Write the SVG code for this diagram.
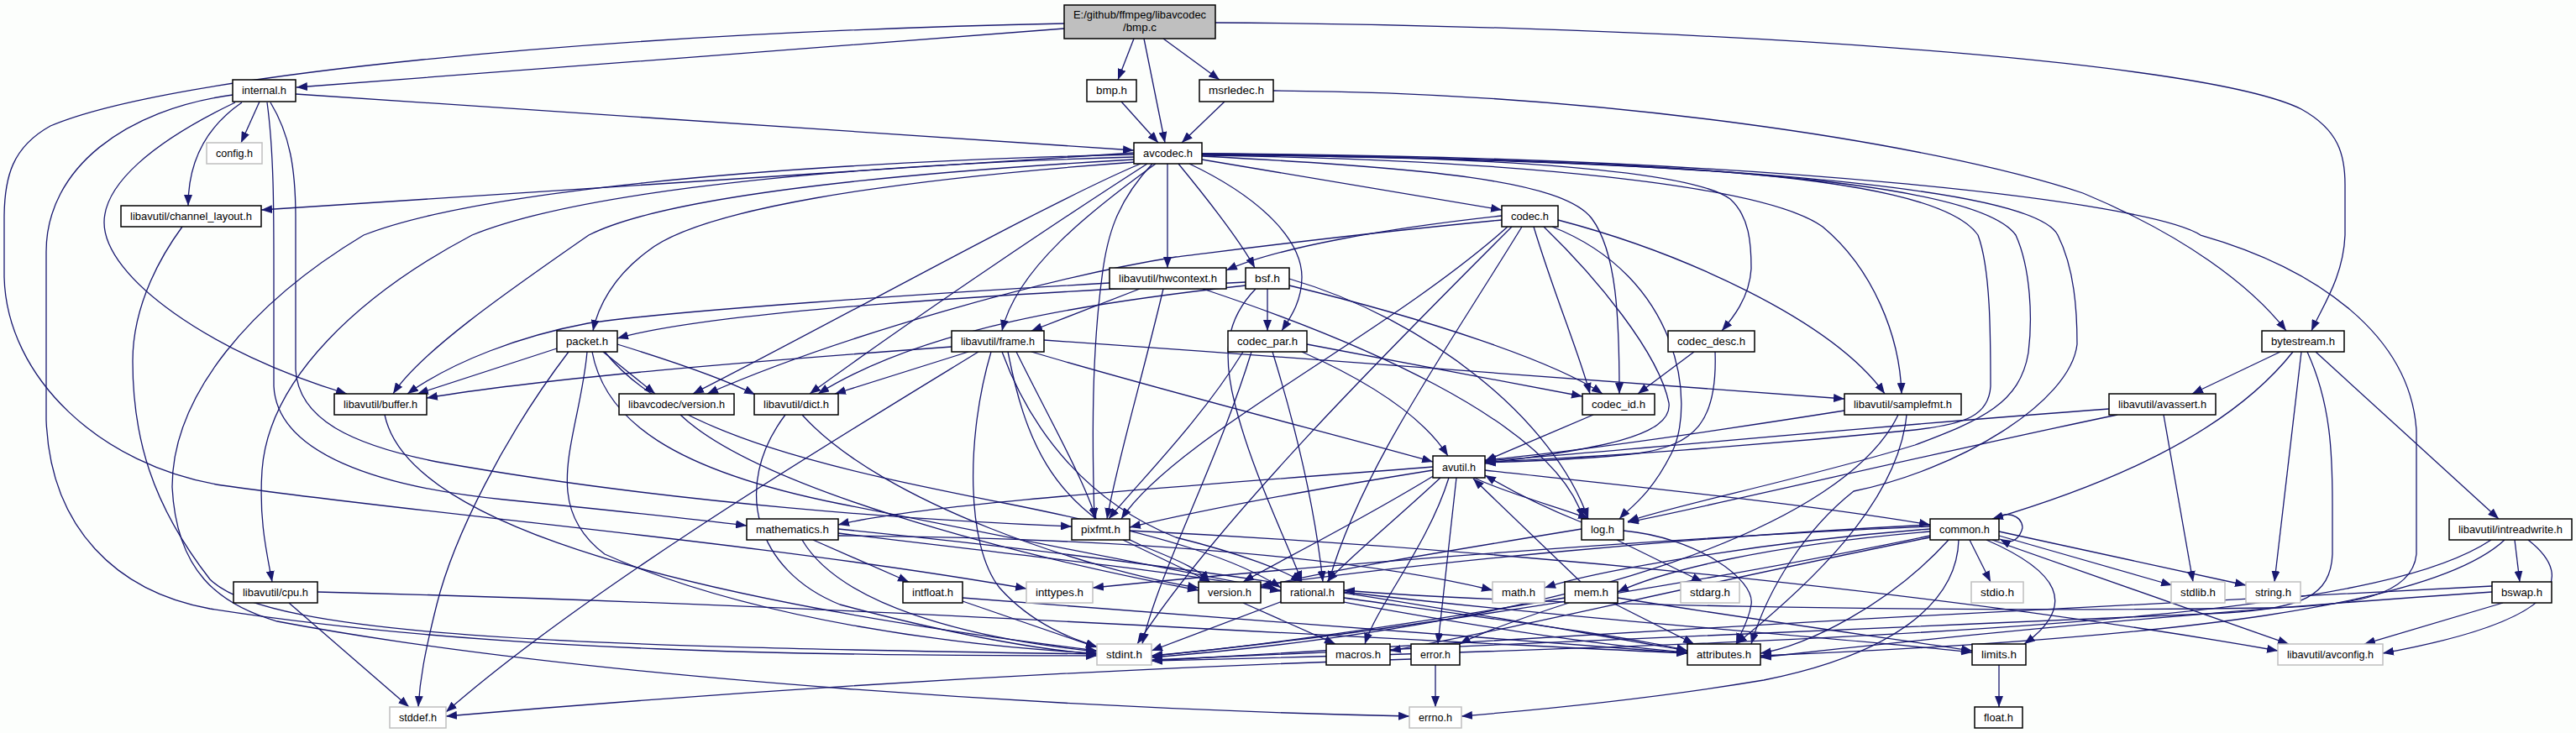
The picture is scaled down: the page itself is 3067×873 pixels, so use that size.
<svg xmlns="http://www.w3.org/2000/svg" width="3067" height="873" viewBox="0 0 3067 873">
<style>
.n rect{fill:#fff;stroke:#000;stroke-width:1.5}
.s rect{fill:#fff;stroke:#bfbfbf;stroke-width:1.5}
.r rect{fill:#bfbfbf;stroke:#000;stroke-width:1.5}
text{font-family:"Liberation Sans",Arial,sans-serif;font-size:13px;fill:#000;text-anchor:middle}
#edges path{fill:none;stroke:#191970;stroke-width:1.3;marker-end:url(#a)}
</style>
<defs>
<marker id="a" markerUnits="userSpaceOnUse" markerWidth="13" markerHeight="10" viewBox="0 0 13 10" refX="13" refY="5" orient="auto"><path d="M0,0 L13,5 L0,10 z" fill="#191970" stroke="none"/></marker>
</defs>
<rect width="3067" height="873" fill="#fcfefc"/>
<g id="edges">
<path d="M1267,34 C1000,55 600,85 353,104"/>
<path d="M1267,28 C700,40 200,90 60,150 C15,175 5,210 5,260 L5,330 C8,450 120,555 264,578 C500,612 900,645 1222,701"/>
<path d="M1350,46 L1331,95"/>
<path d="M1362,46 L1387,170"/>
<path d="M1385,46 L1452,95"/>
<path d="M1447,27 C2000,30 2620,70 2740,130 C2785,155 2792,185 2792,220 L2792,280 C2790,330 2765,365 2752,394"/>
<path d="M1335,121 L1379,170"/>
<path d="M1458,121 L1407,170"/>
<path d="M1516,108 C1900,110 2300,170 2480,230 C2600,280 2680,340 2722,394"/>
<path d="M352,112 L1350,179"/>
<path d="M309,121 L287,170"/>
<path d="M288,122 C240,155 224,200 224,245"/>
<path d="M280,122 C180,170 124,220 124,265 C124,330 250,420 413,469"/>
<path d="M277,113 C150,130 55,200 55,300 L55,500 C60,630 140,705 250,725 C600,780 1000,780 1306,781"/>
<path d="M318,122 C326,180 326,250 326,320 L326,460 C330,540 450,580 600,595 C750,610 840,620 889,626"/>
<path d="M322,122 C345,160 352,200 352,260 L352,440 C355,500 420,530 520,550 C800,600 1100,620 1276,627"/>
<path d="M1350,182 L311,250"/>
<path d="M1350,190 C1000,210 780,240 701,280 C600,350 500,420 468,469"/>
<path d="M1352,193 C1050,215 830,250 770,300 C730,330 712,365 706,394"/>
<path d="M1350,187 C900,200 660,240 562,280 C430,350 320,450 312,560 C308,620 318,660 324,693"/>
<path d="M1350,184 C900,195 560,230 433,280 C300,360 205,470 205,580 C210,680 260,720 330,740 C700,810 1300,845 1678,853"/>
<path d="M1358,195 C1250,240 1000,380 825,469"/>
<path d="M1366,195 C1280,250 1100,370 964,469"/>
<path d="M1376,195 C1300,250 1210,320 1193,394"/>
<path d="M1390,195 L1390,319"/>
<path d="M1403,195 C1440,240 1478,290 1494,319"/>
<path d="M1416,195 C1500,235 1550,285 1550,330 C1550,360 1535,380 1526,394"/>
<path d="M1431,190 L1788,250"/>
<path d="M1431,183 C1750,186 2010,200 2060,237 C2083,258 2085,290 2085,320 C2083,355 2062,380 2050,394"/>
<path d="M1431,186 C1700,200 1860,215 1895,260 C1925,300 1928,380 1928,469"/>
<path d="M1431,185 C1800,190 2100,220 2170,270 C2230,320 2262,400 2264,469"/>
<path d="M1431,184 C1900,190 2300,200 2355,280 C2370,320 2370,400 2370,460 C2368,495 2340,505 2280,512 C2100,530 1900,545 1768,550"/>
<path d="M1431,184 C1950,190 2350,210 2400,280 C2418,320 2420,380 2415,420 C2405,480 2360,500 2280,530 C2150,570 2000,600 1938,621"/>
<path d="M1431,183 C2000,190 2420,220 2450,280 C2470,320 2473,370 2473,410 C2465,480 2330,560 2207,585 C2150,630 2105,700 2085,767"/>
<path d="M1431,183 C2100,186 2560,240 2620,280 C2760,320 2870,400 2877,513 L2877,660 C2872,710 2800,722 2700,724 C2300,730 1800,720 1600,703"/>
<path d="M1372,195 C1330,240 1318,280 1312,330 C1300,420 1300,520 1303,618"/>
<path d="M1788,257 C1650,272 1520,295 1460,322"/>
<path d="M1788,262 C1600,280 1450,300 1400,306 C1250,330 1000,400 842,469"/>
<path d="M1800,270 C1650,420 1450,620 1354,767"/>
<path d="M1795,270 C1650,400 1400,520 1335,618"/>
<path d="M1812,270 C1720,420 1620,560 1582,693"/>
<path d="M1838,270 C1900,330 1975,420 1987,480 C1992,520 1900,535 1768,552"/>
<path d="M1848,270 C2000,330 2020,480 1990,540 C1965,590 1940,605 1928,618"/>
<path d="M1855,262 C2000,300 2180,380 2244,469"/>
<path d="M1826,270 C1850,350 1880,420 1893,469"/>
<path d="M1483,340 C1300,360 1100,390 974,469"/>
<path d="M1483,336 C1200,350 850,370 735,403"/>
<path d="M1509,344 L1509,394"/>
<path d="M1535,340 C1700,380 1850,430 1908,469"/>
<path d="M1535,332 C1700,380 1850,500 1891,618"/>
<path d="M1495,344 C1460,380 1455,420 1470,480 C1490,560 1530,640 1550,693"/>
<path d="M1490,419 C1450,550 1380,680 1360,767"/>
<path d="M1550,419 C1620,450 1690,490 1724,543"/>
<path d="M1515,419 C1540,500 1565,600 1575,693"/>
<path d="M1480,419 C1430,500 1360,570 1320,618"/>
<path d="M1556,410 L1884,472"/>
<path d="M2017,419 L1950,469"/>
<path d="M2042,419 C2045,500 2020,530 1950,540 C1880,548 1800,550 1768,551"/>
<path d="M1897,494 L1768,549"/>
<path d="M663,415 L497,469"/>
<path d="M718,419 L780,469"/>
<path d="M735,410 C800,430 860,450 899,470"/>
<path d="M677,419 C600,520 540,640 520,720 C505,780 500,810 498,842"/>
<path d="M699,419 C690,520 640,600 720,660 C900,740 1150,770 1306,778"/>
<path d="M705,419 C720,500 800,560 1000,600 C1500,700 1800,760 2009,777"/>
<path d="M720,419 C800,520 1000,560 1200,600 C1400,640 1480,670 1525,700"/>
<path d="M810,494 C900,580 1200,660 1427,703"/>
<path d="M1321,337 C1100,350 800,370 700,385 C620,400 540,430 485,469"/>
<path d="M1357,344 L1228,394"/>
<path d="M1385,344 C1360,450 1330,550 1318,618"/>
<path d="M1432,344 C1600,400 1850,500 1885,618"/>
<path d="M1133,413 C900,430 650,450 508,474"/>
<path d="M1153,419 L994,469"/>
<path d="M1165,419 C1000,520 700,700 531,848"/>
<path d="M1180,419 C1150,520 1150,650 1190,700 C1230,745 1280,762 1306,770"/>
<path d="M1228,419 C1400,470 1600,520 1706,550"/>
<path d="M1193,419 C1230,520 1300,600 1400,640 C1480,660 1530,680 1550,693"/>
<path d="M1243,405 C1600,430 2000,460 2196,475"/>
<path d="M1210,419 C1250,500 1290,570 1305,618"/>
<path d="M1200,419 C1220,520 1250,600 1360,650 C1410,670 1430,680 1440,693"/>
<path d="M935,494 C870,580 900,680 1000,720 C1150,760 1250,775 1306,779"/>
<path d="M955,494 C1050,600 1300,680 1427,700"/>
<path d="M458,494 C480,600 700,700 1306,775"/>
<path d="M217,270 C195,300 158,360 158,430 C158,520 180,600 250,690 C320,760 700,770 1306,779"/>
<path d="M344,718 L487,842"/>
<path d="M378,705 C1000,720 1600,760 2009,778"/>
<path d="M2196,489 C2000,520 1850,540 1768,548"/>
<path d="M2260,494 C2200,620 1900,740 1371,783"/>
<path d="M2270,494 C2260,600 2150,700 2067,767"/>
<path d="M2576,494 L2611,693"/>
<path d="M2511,487 C2200,510 1900,540 1768,549"/>
<path d="M2521,494 C2300,540 2050,600 1938,622"/>
<path d="M1768,560 C1950,580 2150,600 2298,625"/>
<path d="M1734,569 L1712,767"/>
<path d="M1715,569 C1660,620 1600,670 1580,693"/>
<path d="M1708,566 C1620,620 1520,670 1480,693"/>
<path d="M1725,569 C1700,650 1640,720 1625,767"/>
<path d="M1706,556 C1400,580 1100,600 998,625"/>
<path d="M1755,569 C1800,590 1860,605 1892,618"/>
<path d="M1706,560 C1550,585 1420,610 1345,628"/>
<path d="M1883,622 C1840,605 1800,585 1768,566"/>
<path d="M1925,643 L2027,693"/>
<path d="M1933,632 C2020,640 2090,690 2085,720 C2082,740 2072,755 2067,767"/>
<path d="M1883,630 C1700,660 1550,685 1501,700"/>
<path d="M1882,693 L1754,570"/>
<path d="M1868,718 C1800,740 1760,755 1738,767"/>
<path d="M1920,718 L2017,767"/>
<path d="M1863,712 C1700,740 1500,770 1371,781"/>
<path d="M1926,712 C2100,740 2250,760 2348,775"/>
<path d="M1337,643 L1441,693"/>
<path d="M1345,632 C1900,660 2400,720 2712,775"/>
<path d="M968,643 L1082,693"/>
<path d="M955,643 C1000,720 1150,760 1306,776"/>
<path d="M998,635 C1200,660 1400,680 1525,704"/>
<path d="M998,638 C1300,640 1600,660 1777,703"/>
<path d="M998,630 C1500,680 1800,740 2009,775"/>
<path d="M1146,716 L1306,771"/>
<path d="M1146,712 C1500,740 1800,760 2009,778"/>
<path d="M1480,718 L1590,767"/>
<path d="M1527,716 L1371,775"/>
<path d="M1600,712 C1800,740 1950,760 2009,775"/>
<path d="M1600,705 C1900,740 2200,760 2348,777"/>
<path d="M1709,792 L1709,842"/>
<path d="M1680,785 C1200,800 800,830 531,853"/>
<path d="M2375,618 C2395,605 2412,620 2407,632 C2402,645 2392,648 2381,642"/>
<path d="M2345,643 L2370,693"/>
<path d="M2380,638 L2586,697"/>
<path d="M2380,633 L2674,697"/>
<path d="M2372,643 L2725,767"/>
<path d="M2365,643 C2450,680 2475,720 2410,767"/>
<path d="M2298,633 C2100,650 1980,680 1926,705"/>
<path d="M2298,630 C2100,645 1900,680 1839,700"/>
<path d="M2332,643 C2330,720 2250,780 2100,810 C1950,835 1800,848 1740,853"/>
<path d="M2298,627 C2000,640 1600,670 1301,700"/>
<path d="M2298,638 C2000,700 1600,760 1371,781"/>
<path d="M2320,643 C2250,720 2150,770 2096,778"/>
<path d="M2298,640 C2000,700 1800,750 1655,775"/>
<path d="M2298,625 C2000,640 1700,670 1501,697"/>
<path d="M2715,419 L2610,469"/>
<path d="M2730,419 C2650,520 2500,580 2372,618"/>
<path d="M2740,419 L2708,693"/>
<path d="M2747,419 C2775,480 2777,540 2777,600 L2777,660 C2775,710 2740,725 2650,730 C2200,750 1700,770 1371,786"/>
<path d="M2757,419 L2975,618"/>
<path d="M2994,643 L3000,693"/>
<path d="M3010,643 C3070,690 3045,740 2837,778"/>
<path d="M2966,643 C2850,720 2500,760 1371,787"/>
<path d="M2982,643 C2900,720 2600,760 2096,781"/>
<path d="M2980,718 L2815,767"/>
<path d="M2967,698 C2500,720 1800,760 1371,787"/>
<path d="M2967,705 C2600,730 2300,760 2096,783"/>
<path d="M2380,792 L2380,842"/>
</g>
<g id="n_bmpc" class="r"><rect x="1267" y="6" width="180" height="40"/><text x="1357" y="21.5" textLength="158" lengthAdjust="spacingAndGlyphs">E:/github/ffmpeg/libavcodec</text><text x="1357" y="37" textLength="40" lengthAdjust="spacingAndGlyphs">/bmp.c</text></g>
<g id="n_internal" class="n"><rect x="277" y="95" width="75" height="26"/><text x="314.5" y="112" textLength="53" lengthAdjust="spacingAndGlyphs">internal.h</text></g>
<g id="n_bmph" class="n"><rect x="1294" y="95" width="59" height="26"/><text x="1323.5" y="112" textLength="37" lengthAdjust="spacingAndGlyphs">bmp.h</text></g>
<g id="n_msrledec" class="n"><rect x="1428" y="95" width="88" height="26"/><text x="1472" y="112" textLength="66" lengthAdjust="spacingAndGlyphs">msrledec.h</text></g>
<g id="n_config" class="s"><rect x="246" y="170" width="66" height="25"/><text x="279" y="187" textLength="44" lengthAdjust="spacingAndGlyphs">config.h</text></g>
<g id="n_avcodec" class="n"><rect x="1350" y="170" width="81" height="25"/><text x="1390.5" y="187" textLength="59" lengthAdjust="spacingAndGlyphs">avcodec.h</text></g>
<g id="n_chl" class="n"><rect x="144" y="245" width="167" height="25"/><text x="227.5" y="262" textLength="145" lengthAdjust="spacingAndGlyphs">libavutil/channel_layout.h</text></g>
<g id="n_codec" class="n"><rect x="1788" y="245" width="67" height="25"/><text x="1821.5" y="262" textLength="45" lengthAdjust="spacingAndGlyphs">codec.h</text></g>
<g id="n_hwc" class="n"><rect x="1321" y="319" width="139" height="25"/><text x="1390.5" y="336" textLength="117" lengthAdjust="spacingAndGlyphs">libavutil/hwcontext.h</text></g>
<g id="n_bsf" class="n"><rect x="1483" y="319" width="52" height="25"/><text x="1509" y="336" textLength="30" lengthAdjust="spacingAndGlyphs">bsf.h</text></g>
<g id="n_packet" class="n"><rect x="663" y="394" width="72" height="25"/><text x="699" y="411" textLength="50" lengthAdjust="spacingAndGlyphs">packet.h</text></g>
<g id="n_frame" class="n"><rect x="1133" y="394" width="110" height="25"/><text x="1188" y="411" textLength="88" lengthAdjust="spacingAndGlyphs">libavutil/frame.h</text></g>
<g id="n_cpar" class="n"><rect x="1462" y="394" width="94" height="25"/><text x="1509" y="411" textLength="72" lengthAdjust="spacingAndGlyphs">codec_par.h</text></g>
<g id="n_cdesc" class="n"><rect x="1986" y="394" width="103" height="25"/><text x="2037.5" y="411" textLength="81" lengthAdjust="spacingAndGlyphs">codec_desc.h</text></g>
<g id="n_bytestream" class="n"><rect x="2693" y="394" width="98" height="25"/><text x="2742" y="411" textLength="76" lengthAdjust="spacingAndGlyphs">bytestream.h</text></g>
<g id="n_buffer" class="n"><rect x="398" y="469" width="110" height="25"/><text x="453" y="486" textLength="88" lengthAdjust="spacingAndGlyphs">libavutil/buffer.h</text></g>
<g id="n_lver" class="n"><rect x="737" y="469" width="137" height="25"/><text x="805.5" y="486" textLength="115" lengthAdjust="spacingAndGlyphs">libavcodec/version.h</text></g>
<g id="n_dict" class="n"><rect x="898" y="469" width="100" height="25"/><text x="948" y="486" textLength="78" lengthAdjust="spacingAndGlyphs">libavutil/dict.h</text></g>
<g id="n_cid" class="n"><rect x="1884" y="469" width="86" height="25"/><text x="1927" y="486" textLength="64" lengthAdjust="spacingAndGlyphs">codec_id.h</text></g>
<g id="n_sfmt" class="n"><rect x="2196" y="469" width="139" height="25"/><text x="2265.5" y="486" textLength="117" lengthAdjust="spacingAndGlyphs">libavutil/samplefmt.h</text></g>
<g id="n_avassert" class="n"><rect x="2511" y="469" width="127" height="25"/><text x="2574.5" y="486" textLength="105" lengthAdjust="spacingAndGlyphs">libavutil/avassert.h</text></g>
<g id="n_avutil" class="n"><rect x="1706" y="543" width="62" height="26"/><text x="1737" y="561" textLength="40" lengthAdjust="spacingAndGlyphs">avutil.h</text></g>
<g id="n_mathematics" class="n"><rect x="889" y="618" width="109" height="25"/><text x="943.5" y="635" textLength="87" lengthAdjust="spacingAndGlyphs">mathematics.h</text></g>
<g id="n_pixfmt" class="n"><rect x="1276" y="618" width="69" height="25"/><text x="1310.5" y="635" textLength="47" lengthAdjust="spacingAndGlyphs">pixfmt.h</text></g>
<g id="n_log" class="n"><rect x="1883" y="618" width="50" height="25"/><text x="1908" y="635" textLength="28" lengthAdjust="spacingAndGlyphs">log.h</text></g>
<g id="n_common" class="n"><rect x="2298" y="618" width="82" height="25"/><text x="2339" y="635" textLength="60" lengthAdjust="spacingAndGlyphs">common.h</text></g>
<g id="n_irw" class="n"><rect x="2916" y="618" width="146" height="25"/><text x="2989" y="635" textLength="124" lengthAdjust="spacingAndGlyphs">libavutil/intreadwrite.h</text></g>
<g id="n_cpu" class="n"><rect x="278" y="693" width="100" height="25"/><text x="328" y="710" textLength="78" lengthAdjust="spacingAndGlyphs">libavutil/cpu.h</text></g>
<g id="n_intfloat" class="n"><rect x="1075" y="693" width="71" height="25"/><text x="1110.5" y="710" textLength="49" lengthAdjust="spacingAndGlyphs">intfloat.h</text></g>
<g id="n_inttypes" class="s"><rect x="1222" y="693" width="79" height="25"/><text x="1261.5" y="710" textLength="57" lengthAdjust="spacingAndGlyphs">inttypes.h</text></g>
<g id="n_version" class="n"><rect x="1427" y="693" width="74" height="25"/><text x="1464" y="710" textLength="52" lengthAdjust="spacingAndGlyphs">version.h</text></g>
<g id="n_rational" class="n"><rect x="1525" y="693" width="75" height="25"/><text x="1562.5" y="710" textLength="53" lengthAdjust="spacingAndGlyphs">rational.h</text></g>
<g id="n_math" class="s"><rect x="1777" y="693" width="62" height="25"/><text x="1808" y="710" textLength="40" lengthAdjust="spacingAndGlyphs">math.h</text></g>
<g id="n_mem" class="n"><rect x="1863" y="693" width="63" height="25"/><text x="1894.5" y="710" textLength="41" lengthAdjust="spacingAndGlyphs">mem.h</text></g>
<g id="n_stdarg" class="s"><rect x="2001" y="693" width="70" height="25"/><text x="2036" y="710" textLength="48" lengthAdjust="spacingAndGlyphs">stdarg.h</text></g>
<g id="n_stdio" class="s"><rect x="2347" y="693" width="62" height="25"/><text x="2378" y="710" textLength="40" lengthAdjust="spacingAndGlyphs">stdio.h</text></g>
<g id="n_stdlib" class="s"><rect x="2585" y="693" width="64" height="25"/><text x="2617" y="710" textLength="42" lengthAdjust="spacingAndGlyphs">stdlib.h</text></g>
<g id="n_string" class="s"><rect x="2674" y="693" width="65" height="25"/><text x="2706.5" y="710" textLength="43" lengthAdjust="spacingAndGlyphs">string.h</text></g>
<g id="n_bswap" class="n"><rect x="2967" y="693" width="71" height="25"/><text x="3002.5" y="710" textLength="49" lengthAdjust="spacingAndGlyphs">bswap.h</text></g>
<g id="n_stdint" class="s"><rect x="1306" y="767" width="65" height="25"/><text x="1338.5" y="784" textLength="43" lengthAdjust="spacingAndGlyphs">stdint.h</text></g>
<g id="n_macros" class="n"><rect x="1579" y="767" width="76" height="25"/><text x="1617" y="784" textLength="54" lengthAdjust="spacingAndGlyphs">macros.h</text></g>
<g id="n_error" class="n"><rect x="1680" y="767" width="58" height="25"/><text x="1709" y="784" textLength="36" lengthAdjust="spacingAndGlyphs">error.h</text></g>
<g id="n_attributes" class="n"><rect x="2009" y="767" width="87" height="25"/><text x="2052.5" y="784" textLength="65" lengthAdjust="spacingAndGlyphs">attributes.h</text></g>
<g id="n_limits" class="n"><rect x="2348" y="767" width="64" height="25"/><text x="2380" y="784" textLength="42" lengthAdjust="spacingAndGlyphs">limits.h</text></g>
<g id="n_avconfig" class="s"><rect x="2712" y="767" width="125" height="25"/><text x="2774.5" y="784" textLength="103" lengthAdjust="spacingAndGlyphs">libavutil/avconfig.h</text></g>
<g id="n_stddef" class="s"><rect x="464" y="842" width="67" height="25"/><text x="497.5" y="859" textLength="45" lengthAdjust="spacingAndGlyphs">stddef.h</text></g>
<g id="n_errno" class="s"><rect x="1678" y="842" width="62" height="25"/><text x="1709" y="859" textLength="40" lengthAdjust="spacingAndGlyphs">errno.h</text></g>
<g id="n_float" class="n"><rect x="2351" y="842" width="57" height="25"/><text x="2379.5" y="859" textLength="35" lengthAdjust="spacingAndGlyphs">float.h</text></g>
</svg>
